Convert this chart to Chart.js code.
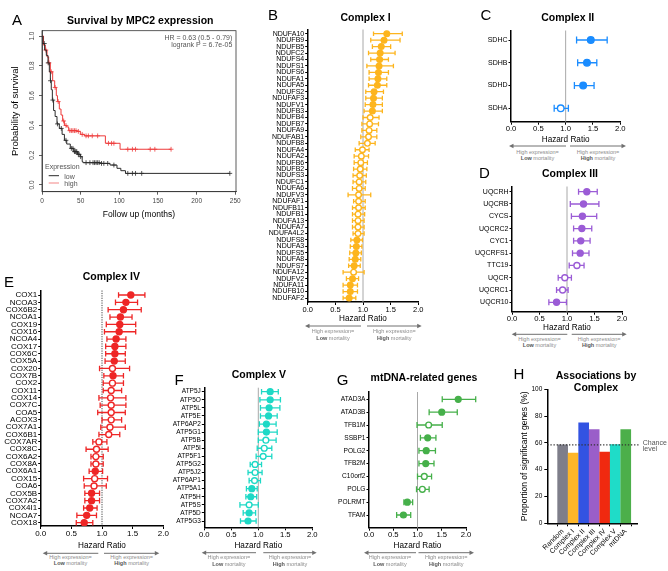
<!DOCTYPE html>
<html>
<head>
<meta charset="utf-8">
<script src="https://cdn.jsdelivr.net/npm/chart.js@4.4.1/dist/chart.umd.min.js"></script>
<style>
  html, body { margin: 0; padding: 0; background: #fff; }
  #fig { position: relative; width: 668px; height: 571px; overflow: hidden; font-family: 'Liberation Sans', Arial, sans-serif; color: #000; }
  #fig canvas { position: absolute; }
  .t { position: absolute; white-space: nowrap; line-height: 1; transform: translate(-50%, -50%); }
  .t.l { transform: translate(0, -50%); }
  .t.r { transform: translate(-100%, -50%); }
  .letter { font-size: 15px; }
  .ttl { font-size: 10.5px; font-weight: bold; }
  .ann { font-size: 5.5px; color: #8c8c8c; }
  .ann b { color: #555; }
  .km { font-size: 7px; color: #555; }
  #arrows { position: absolute; left: 0; top: 0; }
</style>
</head>
<body>
<div id="fig"><svg id="arrows" width="668" height="571"></svg></div>
<script>
// ---- A: Kaplan-Meier, survival by MPC2 expression ----
const kmTimeLow = [0, 1.3, 3.4, 5.6, 7.8, 9.5, 10.8, 12, 13.4, 15, 17, 19.4, 22.4, 26, 29, 32, 36.6, 41, 46, 49.6, 52, 53, 75, 88, 97, 102, 108, 243];
const kmSurvLow = [1.0, 0.95, 0.906, 0.87, 0.82, 0.76, 0.70, 0.64, 0.57, 0.50, 0.46, 0.41, 0.38, 0.34, 0.30, 0.275, 0.246, 0.224, 0.206, 0.19, 0.157, 0.15, 0.145, 0.134, 0.112, 0.096, 0.078, 0.078];
const kmTimeHigh = [0, 2, 4.3, 6.5, 8.6, 10.8, 13.8, 16.4, 18.5, 20, 22.4, 24.6, 26.7, 29, 32, 34.5, 45, 49.6, 55, 82, 101, 167];
const kmSurvHigh = [1.0, 0.94, 0.906, 0.86, 0.82, 0.76, 0.70, 0.655, 0.60, 0.56, 0.51, 0.47, 0.43, 0.40, 0.39, 0.365, 0.36, 0.34, 0.33, 0.28, 0.24, 0.24];
const censorLow = [3, 8, 11, 14, 20, 25, 31, 38, 40, 42, 43, 44, 45, 47, 48, 50, 57, 62, 66, 68, 70, 72, 74, 77, 80, 85, 93, 111, 117, 121, 129, 243];
const censorHigh = [5, 9, 12, 17, 21, 28, 31, 36, 38, 40, 42, 44, 47, 52, 57, 60, 65, 72, 86, 90, 93, 111, 117, 121, 140, 146, 167];
const kmXTicks = [0, 50, 100, 150, 200, 250];
const kmYTicks = [0, 0.2, 0.4, 0.6, 0.8, 1.0];

// ---- B: Complex I ----
const c1Genes = ['NDUFA10','NDUFB9','NDUFB5','NDUFC2','NDUFS4','NDUFS1','NDUFS6','NDUFA1','NDUFA5','NDUFS2','NDUFAF3','NDUFV1','NDUFB3','NDUFB4','NDUFB7','NDUFA9','NDUFAB1','NDUFB8','NDUFA4','NDUFA2','NDUFB6','NDUFB2','NDUFS3','NDUFC1','NDUFA6','NDUFV3','NDUFAF1','NDUFB11','NDUFB1','NDUFA13','NDUFA7','NDUFA4L2','NDUFS8','NDUFA3','NDUFS5','NDUFA8','NDUFS7','NDUFA12','NDUFV2','NDUFA11','NDUFB10','NDUFAF2'];
const c1HR = [1.43,1.38,1.33,1.31,1.30,1.29,1.28,1.27,1.26,1.20,1.19,1.18,1.17,1.13,1.12,1.11,1.10,1.08,0.99,0.97,0.96,0.95,0.94,0.93,0.93,0.92,0.92,0.92,0.91,0.91,0.91,0.91,0.89,0.88,0.87,0.86,0.84,0.83,0.81,0.77,0.77,0.75];
const c1Lo = [1.19,1.14,1.17,1.10,1.14,1.07,1.11,1.11,1.10,1.05,1.05,1.04,1.02,1.00,0.98,0.98,0.96,0.93,0.86,0.84,0.84,0.83,0.82,0.82,0.81,0.73,0.83,0.81,0.81,0.81,0.81,0.82,0.78,0.77,0.76,0.75,0.74,0.64,0.70,0.64,0.64,0.64];
const c1Hi = [1.71,1.67,1.50,1.58,1.46,1.55,1.46,1.43,1.43,1.37,1.35,1.35,1.35,1.29,1.28,1.25,1.25,1.22,1.11,1.10,1.08,1.07,1.06,1.05,1.04,1.14,1.04,1.04,1.03,1.02,1.02,1.02,0.99,0.98,0.97,0.96,0.95,1.02,0.92,0.90,0.90,0.87];
const c1Sig = [1,1,1,1,1,1,1,1,1,1,1,1,1,0,0,0,0,0,0,0,0,0,0,0,0,0,0,0,0,0,0,0,1,1,1,1,1,0,1,1,1,1];

// ---- C: Complex II ----
const c2Genes = ['SDHC','SDHB','SDHD','SDHA'];
const c2HR = [1.46,1.39,1.32,0.91];
const c2Lo = [1.20,1.22,1.16,0.79];
const c2Hi = [1.76,1.57,1.52,1.05];
const c2Sig = [1,1,1,0];

// ---- D: Complex III ----
const c3Genes = ['UQCRH','UQCRB','CYCS','UQCRC2','CYC1','UQCRFS1','TTC19','UQCR','UQCRC1','UQCR10'];
const c3HR = [1.36,1.30,1.28,1.27,1.25,1.24,1.18,0.96,0.92,0.81];
const c3Lo = [1.21,1.06,1.08,1.12,1.12,1.10,1.04,0.84,0.81,0.67];
const c3Hi = [1.55,1.58,1.54,1.45,1.42,1.40,1.31,1.08,1.02,0.99];
const c3Sig = [1,1,1,1,1,1,0,0,0,1];

// ---- E: Complex IV ----
const c4Genes = ['COX1','NCOA3','COX6B2','NCOA1','COX19','COX16','NCOA4','COX17','COX6C','COX5A','COX20','COX7B','COX2','COX11','COX14','COX7C','COA5','ACOX3','COX7A1','COX6B1','COX7AR','COX8C','COX6A2','COX8A','COX6A1','COX15','COA6','COX5B','COX7A2','COX4I1','NCOA7','COX18'];
const c4HR = [1.47,1.39,1.35,1.30,1.29,1.28,1.23,1.21,1.21,1.20,1.17,1.18,1.17,1.15,1.14,1.15,1.15,1.15,1.13,1.11,0.95,0.91,0.90,0.90,0.89,0.88,0.87,0.83,0.83,0.80,0.75,0.71];
const c4Lo = [1.27,1.22,1.10,1.13,1.07,1.04,1.08,1.06,1.06,1.05,0.96,1.03,1.02,1.02,0.95,0.97,0.93,1.00,0.98,0.95,0.85,0.74,0.82,0.82,0.79,0.70,0.71,0.72,0.72,0.70,0.59,0.58];
const c4Hi = [1.70,1.58,1.64,1.49,1.55,1.55,1.39,1.39,1.38,1.38,1.45,1.35,1.35,1.32,1.39,1.39,1.38,1.32,1.38,1.29,1.08,1.10,1.02,1.02,1.01,1.09,1.07,0.96,0.96,0.92,0.91,0.85];
const c4Sig = [1,1,1,1,1,1,1,1,1,1,0,1,0,0,0,0,0,0,0,0,0,0,0,0,1,0,0,1,1,1,1,1];

// ---- F: Complex V ----
const c5Genes = ['ATP5J','ATP5O','ATP5L','ATP5E','ATP6AP2','ATP5G1','ATP5B','ATP5I','ATP5F1','ATP5G2','ATP5J2','ATP6AP1','ATP5A1','ATP5H','ATP5S','ATP5D','ATP5G3'];
const c5HR = [1.22,1.22,1.20,1.19,1.15,1.15,1.14,1.11,1.09,0.94,0.94,0.93,0.88,0.86,0.83,0.83,0.81];
const c5Lo = [1.06,1.03,1.04,1.04,1.02,1.00,1.00,0.98,0.96,0.85,0.81,0.83,0.78,0.77,0.66,0.72,0.67];
const c5Hi = [1.37,1.41,1.40,1.35,1.33,1.35,1.33,1.25,1.25,1.06,1.07,1.04,0.98,0.97,1.00,0.95,0.96];
const c5Sig = [1,1,1,1,1,1,0,0,0,0,0,0,1,1,0,1,1];

// ---- G: mtDNA-related genes ----
const mtGenes = ['ATAD3A','ATAD3B','TFB1M','SSBP1','POLG2','TFB2M','C10orf2','POLG','POLRMT','TFAM'];
const mtHR = [1.84,1.50,1.23,1.21,1.18,1.17,1.14,1.10,0.79,0.71];
const mtLo = [1.51,1.24,0.99,1.06,1.03,1.03,1.00,0.98,0.72,0.57];
const mtHi = [2.20,1.82,1.51,1.38,1.37,1.34,1.29,1.24,0.90,0.86];
const mtSig = [1,1,0,1,1,1,0,0,1,1];

// ---- H: associations by complex ----
const hLabels = ['Random','Complex I','Complex II','Complex III','Complex IV','Complex V','mtDNA'];
const hValues = [58.5, 52.4, 75, 70, 53.1, 58.8, 70];
const hColors = ['#7e7e8a','#fdb62a','#3253e2','#9a5ec9','#f0290f','#1fdcc8','#4caf4a'];
const chanceLevel = 58.5;

const hrTicks = [0, 0.5, 1, 1.5, 2];

Chart.defaults.font.family = "'Liberation Sans', Arial, sans-serif";
Chart.defaults.color = '#000';
Chart.defaults.animation = false;
Chart.defaults.events = [];
Chart.defaults.plugins.legend.display = false;
Chart.defaults.plugins.tooltip.enabled = false;

const fig = document.getElementById('fig');
const svg = document.getElementById('arrows');

function addCanvas(L, T, W, H) {
  const c = document.createElement('canvas');
  c.width = W; c.height = H;
  c.style.left = L + 'px'; c.style.top = T + 'px';
  c.style.width = W + 'px'; c.style.height = H + 'px';
  fig.appendChild(c);
  return c;
}

function txt(x, y, html, cls, align) {
  const d = document.createElement('div');
  d.className = 't ' + (cls || '') + (align ? ' ' + align : '');
  d.style.left = x + 'px'; d.style.top = y + 'px';
  d.innerHTML = html;
  fig.appendChild(d);
  return d;
}

function svgEl(tag, attrs) {
  const e = document.createElementNS('http://www.w3.org/2000/svg', tag);
  for (const k in attrs) e.setAttribute(k, attrs[k]);
  svg.appendChild(e);
}

function arrowPair(x1, x2, x3, x4, y, ty1, ty2) {
  const col = '#707070';
  svgEl('line', {x1: x1 + 3, y1: y, x2: x2, y2: y, stroke: col, 'stroke-width': 1});
  svgEl('polygon', {points: `${x1},${y} ${x1 + 4.5},${y - 2.2} ${x1 + 4.5},${y + 2.2}`, fill: col});
  svgEl('line', {x1: x3, y1: y, x2: x4 - 3, y2: y, stroke: col, 'stroke-width': 1});
  svgEl('polygon', {points: `${x4},${y} ${x4 - 4.5},${y - 2.2} ${x4 - 4.5},${y + 2.2}`, fill: col});
  const lc = (x1 + x2) / 2, rc = (x3 + x4) / 2;
  txt(lc, ty1, 'High expression=', 'ann');
  txt(lc, ty2, '<b>Low</b> mortality', 'ann');
  txt(rc, ty1, 'High expression=', 'ann');
  txt(rc, ty2, '<b>High</b> mortality', 'ann');
}

function survAt(times, surv, t) {
  let s = surv[0];
  for (let i = 0; i < times.length; i++) if (times[i] <= t) s = surv[i];
  return s;
}

// forest plot: o.l/r/t/b = chart area on the page, first/last = row centres
function forest(o) {
  const L = Math.floor(o.l - 64), T = Math.floor(o.t - 8);
  const W = Math.ceil(o.r + 16) - L;
  const lh = 8.2 * 1.2;
  const bottomEdge = o.titleY + lh / 2;
  const H = Math.ceil(bottomEdge) - T;
  const n = o.genes.length;
  const step = (o.last - o.first) / (n - 1);
  const cv = addCanvas(L, T, W, H);

  const errorBars = {
    id: 'errorBars',
    beforeDatasetsDraw(chart) {
      const {ctx, chartArea, scales: {x, y}} = chart;
      ctx.save();
      const rx = x.getPixelForValue(1);
      ctx.strokeStyle = o.refColor || '#a8a8a8';
      ctx.lineWidth = 1;
      ctx.setLineDash(o.refDash || []);
      ctx.beginPath();
      ctx.moveTo(rx, chartArea.top);
      ctx.lineTo(rx, chartArea.bottom);
      ctx.stroke();
      ctx.setLineDash([]);
      ctx.strokeStyle = o.color;
      ctx.lineWidth = 1.3;
      o.lo.forEach((lo, i) => {
        const yy = y.getPixelForValue(i);
        const a = x.getPixelForValue(lo), b = x.getPixelForValue(o.hi[i]);
        ctx.beginPath();
        ctx.moveTo(a, yy); ctx.lineTo(b, yy);
        ctx.moveTo(a, yy - o.cap); ctx.lineTo(a, yy + o.cap);
        ctx.moveTo(b, yy - o.cap); ctx.lineTo(b, yy + o.cap);
        ctx.stroke();
      });
      ctx.restore();
    }
  };

  new Chart(cv, {
    type: 'scatter',
    data: {
      datasets: [{
        data: o.hr.map((v, i) => ({x: v, y: i})),
        pointRadius: o.radius,
        pointHoverRadius: o.radius,
        pointBorderWidth: 1.4,
        pointBorderColor: o.color,
        pointBackgroundColor: o.sig.map(s => s ? o.color : '#fff')
      }]
    },
    options: {
      responsive: false,
      devicePixelRatio: 1,
      layout: {padding: {top: o.t - T, left: 0, right: L + W - o.r, bottom: T + H - bottomEdge}},
      scales: {
        x: {
          type: 'linear', min: 0, max: 2,
          afterBuildTicks: s => { s.ticks = hrTicks.map(v => ({value: v})); },
          afterFit: s => { s.height = bottomEdge - o.b; },
          ticks: {font: {size: o.tickSize}, color: '#000', padding: 0, autoSkip: false, maxRotation: 0, callback: v => v.toFixed(1)},
          grid: {drawOnChartArea: false, drawTicks: true, tickLength: 3, color: '#000', lineWidth: 1},
          border: {color: '#000', width: 1.5},
          title: {display: true, text: 'Hazard Ratio', font: {size: 8.2}, color: '#000', padding: 0}
        },
        y: {
          type: 'linear', reverse: true,
          min: -(o.first - o.t) / step,
          max: (n - 1) + (o.b - o.last) / step,
          afterBuildTicks: s => { s.ticks = o.genes.map((g, i) => ({value: i})); },
          afterFit: s => { s.width = o.l - L; },
          ticks: {font: {size: o.labelSize}, color: '#000', padding: 1, autoSkip: false, callback: v => o.genes[v]},
          grid: {drawOnChartArea: false, drawTicks: true, tickLength: 2.5, color: '#000', lineWidth: 1},
          border: {color: '#000', width: 1.5}
        }
      }
    },
    plugins: [errorBars]
  });
}

// ---------- Panel A ----------
(function () {
  const L = 0, T = 20, W = 250, H = 200;
  const area = {l: 42, r: 236, t: 30.7, b: 191.7};
  const cv = addCanvas(L, T, W, H);
  const boxAndLabels = {
    id: 'boxAndLabels',
    afterDraw(chart) {
      const {ctx, chartArea, scales: {y}} = chart;
      ctx.save();
      ctx.strokeStyle = '#333';
      ctx.lineWidth = 0.8;
      ctx.strokeRect(chartArea.left, chartArea.top, chartArea.right - chartArea.left, chartArea.bottom - chartArea.top);
      ctx.fillStyle = '#444';
      ctx.font = "6.5px 'Liberation Sans', Arial, sans-serif";
      ctx.textAlign = 'center';
      ctx.textBaseline = 'middle';
      kmYTicks.forEach(v => {
        ctx.save();
        ctx.translate(32.7 - L, y.getPixelForValue(v));
        ctx.rotate(-Math.PI / 2);
        ctx.fillText(v.toFixed(1), 0, 0);
        ctx.restore();
      });
      ctx.restore();
    }
  };
  const lowCol = '#2b2b2b', highCol = '#ee3b3b';
  new Chart(cv, {
    type: 'line',
    data: {
      datasets: [
        {data: kmTimeLow.map((t, i) => ({x: t, y: kmSurvLow[i]})), borderColor: lowCol, borderWidth: 1, stepped: true, pointRadius: 0, fill: false},
        {data: kmTimeHigh.map((t, i) => ({x: t, y: kmSurvHigh[i]})), borderColor: highCol, borderWidth: 1, stepped: true, pointRadius: 0, fill: false},
        {data: censorLow.map(t => ({x: t, y: survAt(kmTimeLow, kmSurvLow, t)})), showLine: false, pointStyle: 'cross', pointRadius: 2.4, pointBorderWidth: 0.8, pointBorderColor: lowCol},
        {data: censorHigh.map(t => ({x: t, y: survAt(kmTimeHigh, kmSurvHigh, t)})), showLine: false, pointStyle: 'cross', pointRadius: 2.4, pointBorderWidth: 0.8, pointBorderColor: highCol}
      ]
    },
    options: {
      responsive: false,
      devicePixelRatio: 1,
      layout: {padding: {top: area.t - T, left: 0, right: L + W - area.r, bottom: T + H - 219.4}},
      scales: {
        x: {
          type: 'linear', min: 0, max: 251,
          afterBuildTicks: s => { s.ticks = kmXTicks.map(v => ({value: v})); },
          afterFit: s => { s.height = 219.4 - area.b; },
          ticks: {font: {size: 6.5}, color: '#444', padding: 3, maxRotation: 0, autoSkip: false},
          grid: {drawOnChartArea: false, tickLength: 3, color: '#333', lineWidth: 0.8},
          border: {color: '#333', width: 0.8},
          title: {display: true, text: 'Follow up (months)', font: {size: 8.5}, color: '#000', padding: 0}
        },
        y: {
          type: 'linear', min: -0.045, max: 1.036,
          afterBuildTicks: s => { s.ticks = kmYTicks.map(v => ({value: v})); },
          afterFit: s => { s.width = area.l - L; },
          ticks: {display: false},
          grid: {drawOnChartArea: false, tickLength: 3, color: '#333', lineWidth: 0.8},
          border: {color: '#333', width: 0.8},
          title: {display: true, text: 'Probability of survival', font: {size: 9.5}, color: '#000', padding: {top: 9.3, bottom: 0}}
        }
      }
    },
    plugins: [boxAndLabels]
  });
  txt(17, 19, 'A', 'letter');
  txt(140.3, 20, 'Survival by MPC2 expression', 'ttl');
  txt(232.3, 36.5, 'HR = 0.63 (0.5 - 0.79)', 'km', 'r');
  txt(232.3, 44, 'logrank P = 6.7e-05', 'km', 'r');
  txt(45, 166, 'Expression', 'km', 'l');
  txt(64.3, 175.7, 'low', 'km', 'l');
  txt(64.3, 183, 'high', 'km', 'l');
  svgEl('line', {x1: 48.7, y1: 175.7, x2: 59, y2: 175.7, stroke: lowCol, 'stroke-width': 1});
  svgEl('line', {x1: 48.7, y1: 183, x2: 59, y2: 183, stroke: '#f59a9a', 'stroke-width': 1.2});
})();

// ---------- Panels B-G ----------
forest({genes: c1Genes, hr: c1HR, lo: c1Lo, hi: c1Hi, sig: c1Sig, color: '#fdb51e',
  l: 307.7, r: 418.3, t: 29.5, b: 302, first: 33.7, last: 298, titleY: 319,
  tickSize: 7.5, labelSize: 7, radius: 2.8, cap: 2.3});
txt(273, 14, 'B', 'letter');
txt(365.5, 16.7, 'Complex I', 'ttl');
arrowPair(305, 361, 367, 421.7, 326, 332, 339);

forest({genes: c2Genes, hr: c2HR, lo: c2Lo, hi: c2Hi, sig: c2Sig, color: '#1a8cff',
  l: 511, r: 620.3, t: 30.5, b: 121.7, first: 40, last: 108.3, titleY: 139.7,
  tickSize: 7.7, labelSize: 7, radius: 3.3, cap: 3.5});
txt(486, 14, 'C', 'letter');
txt(567.7, 16.7, 'Complex II', 'ttl');
arrowPair(509, 566, 570, 626, 146, 152.7, 159.3);

forest({genes: c3Genes, hr: c3HR, lo: c3Lo, hi: c3Hi, sig: c3Sig, color: '#9b5cd6',
  l: 512, r: 622, t: 186.5, b: 311.7, first: 191.7, last: 302.3, titleY: 327.3,
  tickSize: 7.7, labelSize: 7, radius: 3, cap: 3});
txt(484.5, 171.5, 'D', 'letter');
txt(570, 173.3, 'Complex III', 'ttl');
arrowPair(511.7, 567.3, 571.7, 626.7, 334.3, 340, 345.8);

forest({genes: c4Genes, hr: c4HR, lo: c4Lo, hi: c4Hi, sig: c4Sig, color: '#ee2626',
  l: 40.7, r: 163.3, t: 290.5, b: 526, first: 295, last: 522.7, titleY: 545.7,
  tickSize: 8, labelSize: 8, radius: 3, cap: 2.8, refColor: '#444', refDash: [1.2, 1.2]});
txt(9, 281, 'E', 'letter');
txt(111.3, 276, 'Complex IV', 'ttl');
arrowPair(42.7, 98.3, 104, 159.3, 553.3, 557.5, 564);

forest({genes: c5Genes, hr: c5HR, lo: c5Lo, hi: c5Hi, sig: c5Sig, color: '#1ed9c6',
  l: 204.3, r: 312.3, t: 387.7, b: 527.3, first: 391.7, last: 521, titleY: 545.7,
  tickSize: 7.7, labelSize: 6.5, radius: 2.9, cap: 2.8});
txt(179, 379, 'F', 'letter');
txt(258.8, 374.3, 'Complex V', 'ttl');
arrowPair(201.7, 256, 263.3, 316.7, 552.7, 557.7, 565);

forest({genes: mtGenes, hr: mtHR, lo: mtLo, hi: mtHi, sig: mtSig, color: '#46b04a',
  l: 369, r: 466, t: 392, b: 527.7, first: 399.3, last: 515, titleY: 545.7,
  tickSize: 7.7, labelSize: 6.6, radius: 2.9, cap: 3});
txt(342.7, 378.5, 'G', 'letter');
txt(424, 376.5, 'mtDNA-related genes', 'ttl');
arrowPair(364, 416, 418.5, 474, 552.7, 557.5, 565);

// ---------- Panel H ----------
(function () {
  const L = 510, T = 380, W = 158, H = 191;
  const area = {l: 547.3, r: 637, t: 389.3, b: 523.3};
  const cv = addCanvas(L, T, W, H);
  const chance = {
    id: 'chance',
    afterDatasetsDraw(chart) {
      const {ctx, chartArea, scales: {y}} = chart;
      const yy = y.getPixelForValue(chanceLevel);
      ctx.save();
      ctx.strokeStyle = '#333';
      ctx.lineWidth = 1.3;
      ctx.setLineDash([1.3, 1.8]);
      ctx.beginPath();
      ctx.moveTo(chartArea.left, yy);
      ctx.lineTo(chartArea.right + 2, yy);
      ctx.stroke();
      ctx.restore();
    }
  };
  new Chart(cv, {
    type: 'bar',
    data: {
      datasets: [{
        data: hValues.map((v, i) => ({x: i, y: v})),
        backgroundColor: hColors,
        borderWidth: 0,
        barThickness: 10
      }]
    },
    options: {
      responsive: false,
      devicePixelRatio: 1,
      layout: {padding: {top: area.t - T, left: 0, right: L + W - area.r, bottom: 0}},
      scales: {
        x: {
          type: 'linear', min: -0.85, max: 6.46,
          afterBuildTicks: s => { s.ticks = hLabels.map((g, i) => ({value: i})); },
          afterFit: s => { s.height = T + H - area.b; },
          ticks: {font: {size: 7}, color: '#000', padding: 1, autoSkip: false, minRotation: 45, maxRotation: 45, callback: v => hLabels[v]},
          grid: {drawOnChartArea: false, tickLength: 3, color: '#000', lineWidth: 1},
          border: {color: '#000', width: 1.5}
        },
        y: {
          type: 'linear', min: 0, max: 100,
          afterFit: s => { s.width = area.l - L; },
          ticks: {stepSize: 20, font: {size: 6.5}, color: '#000', padding: 2},
          grid: {drawOnChartArea: false, tickLength: 3, color: '#000', lineWidth: 1},
          border: {color: '#000', width: 1.5},
          title: {display: true, text: 'Proportion of significant genes (%)', font: {size: 8.5}, color: '#000', padding: {top: 9.9, bottom: 0}}
        }
      }
    },
    plugins: [chance]
  });
  txt(519, 372.5, 'H', 'letter');
  txt(596, 375, 'Associations by', 'ttl');
  txt(596, 386.5, 'Complex', 'ttl');
  txt(642.7, 441.7, 'Chance', 'km', 'l');
  txt(642.7, 447.5, 'level', 'km', 'l');
})();
</script>
</body>
</html>
